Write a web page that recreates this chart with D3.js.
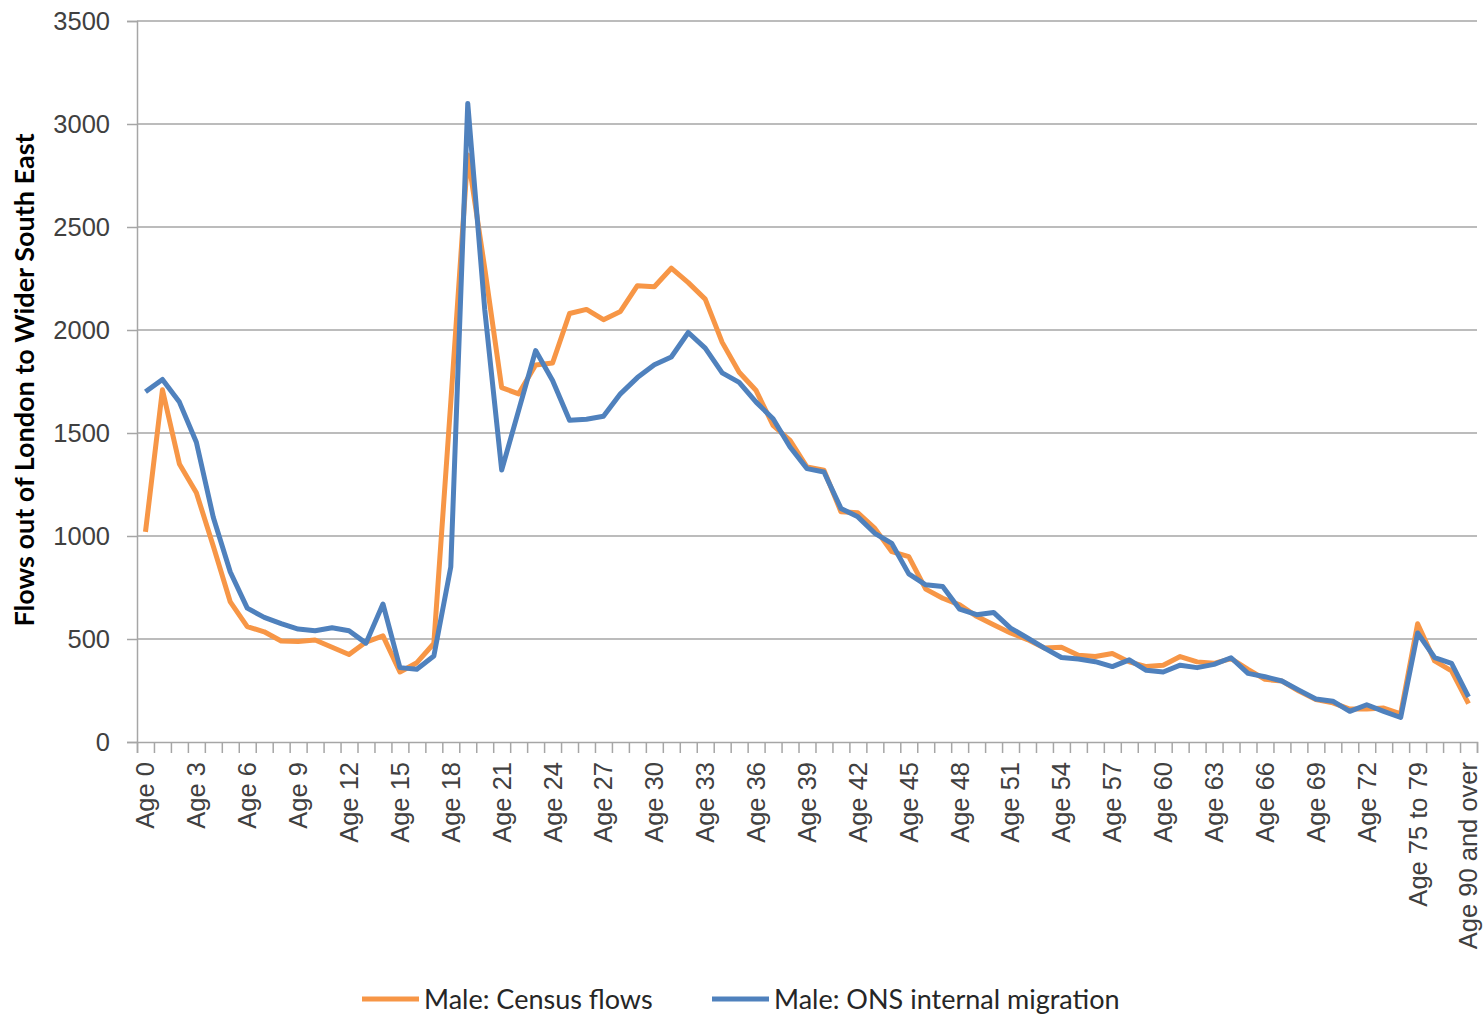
<!DOCTYPE html>
<html>
<head>
<meta charset="utf-8">
<script src="https://cdn.jsdelivr.net/npm/d3@7"></script>
<style>
  body { margin: 0; background: #fff; }
  svg { font-family: Lato, "Open Sans", sans-serif; }
  .tick text { fill: #404040; }
</style>
</head>
<body>
<script>
// categories: single years 0..74, then grouped bands
var ages = [];
for (var a = 0; a <= 74; a++) ages.push("Age " + a);
ages.push("Age 75 to 79", "Age 80 to 84", "Age 85 to 89", "Age 90 and over");

// Male: Census flows
var censusFlows = [1020, 1710, 1350, 1210, 950, 680, 560, 535, 490, 488,
    495, 460, 425, 485, 515, 340, 385, 478, 1650, 2850,
    2300, 1720, 1690, 1830, 1840, 2080, 2100, 2050, 2090, 2215,
    2210, 2300, 2230, 2150, 1940, 1795, 1706, 1537, 1464, 1335,
    1319, 1118, 1113, 1037, 924, 900, 742, 698, 666, 610,
    569, 529, 497, 456, 460, 421, 415, 430, 389, 366,
    373, 415, 389, 382, 405, 353, 304, 296, 247, 206,
    190, 160, 160, 165, 137, 574, 394, 345, 186];

// Male: ONS internal migration
var onsMigration = [1700, 1760, 1650, 1455, 1090, 825, 650, 605, 575, 548,
    540, 555, 540, 480, 670, 361, 353, 417, 850, 3100,
    2100, 1320, 1610, 1900, 1755, 1562, 1567, 1581, 1690, 1769,
    1831, 1869, 1988, 1912, 1792, 1746, 1650, 1569, 1432, 1327,
    1311, 1134, 1093, 1013, 964, 816, 763, 755, 645, 618,
    629, 553, 505, 456, 410, 403, 390, 366, 399, 348,
    340, 373, 361, 377, 409, 333, 317, 296, 252, 209,
    198, 149, 181, 149, 119, 529, 410, 382, 219];

var yTicks = [0, 500, 1000, 1500, 2000, 2500, 3000, 3500];

var seriesNames = ["Male: Census flows", "Male: ONS internal migration"];
var seriesColors = ["#F79646", "#4F81BD"];

var width = 1484, height = 1014;
var plotLeft = 137, plotRight = 1477, plotTop = 21, plotBottom = 742;

var svg = d3.select("body").append("svg")
    .attr("width", width)
    .attr("height", height);

var x = d3.scaleBand().domain(ages).range([plotLeft, plotRight]).padding(0);
var xEdges = d3.scaleLinear().domain([0, ages.length]).range([plotLeft, plotRight]);
var y = d3.scaleLinear().domain([0, 3500]).range([plotBottom, plotTop]);

// gridlines
svg.append("g")
    .selectAll("line")
    .data(yTicks.slice(1))
    .enter()
    .append("line")
    .attr("x1", plotLeft)
    .attr("x2", plotRight)
    .attr("y1", function(d) { return y(d); })
    .attr("y2", function(d) { return y(d); })
    .attr("stroke", "#a6a6a6")
    .attr("stroke-width", 1.5);

// y axis
var yAxis = svg.append("g")
    .attr("transform", "translate(" + plotLeft + ",0)")
    .call(d3.axisLeft(y).tickValues(yTicks).tickFormat(d3.format("d")).tickSize(10).tickPadding(17));
yAxis.select(".domain").attr("stroke", "#a6a6a6").attr("stroke-width", 1.5);
yAxis.selectAll(".tick line").attr("stroke", "#a6a6a6").attr("stroke-width", 1.5);
yAxis.selectAll(".tick text").attr("font-size", 25.5);

// x axis tick marks at category boundaries
var xTickAxis = svg.append("g")
    .attr("transform", "translate(0," + plotBottom + ")")
    .call(d3.axisBottom(xEdges).tickValues(d3.range(0, ages.length + 1)).tickSize(11).tickFormat(""));
xTickAxis.select(".domain").attr("stroke", "#a6a6a6").attr("stroke-width", 1.5);
xTickAxis.selectAll(".tick line").attr("stroke", "#a6a6a6").attr("stroke-width", 1.5);

// x labels, every third category
var xAxis = svg.append("g")
    .attr("transform", "translate(0," + plotBottom + ")")
    .call(d3.axisBottom(x)
        .tickValues(ages.filter(function(d, i) { return i % 3 === 0; }))
        .tickSize(0));
xAxis.select(".domain").remove();
xAxis.selectAll(".tick text")
    .attr("font-size", 25.5)
    .attr("transform", "rotate(-90)")
    .attr("text-anchor", "end")
    .attr("x", -20)
    .attr("y", 0)
    .attr("dy", "0.35em");

// lines
var line = d3.line()
    .x(function(d, i) { return x(ages[i]) + x.bandwidth() / 2; })
    .y(function(d) { return y(d); });

[censusFlows, onsMigration].forEach(function(values, k) {
    svg.append("path")
        .datum(values)
        .attr("fill", "none")
        .attr("stroke", seriesColors[k])
        .attr("stroke-width", 5)
        .attr("stroke-linejoin", "round")
        .attr("d", line);
});

// y axis title
svg.append("text")
    .attr("transform", "translate(34,380) rotate(-90)")
    .attr("text-anchor", "middle")
    .attr("font-size", 27)
    .attr("font-weight", "bold")
    .attr("fill", "#000")
    .text("Flows out of London to Wider South East");

// legend
var legendX = [362, 712];
var legend = svg.append("g");
seriesNames.forEach(function(name, k) {
    legend.append("line")
        .attr("x1", legendX[k])
        .attr("x2", legendX[k] + 57)
        .attr("y1", 999)
        .attr("y2", 999)
        .attr("stroke", seriesColors[k])
        .attr("stroke-width", 5);
    legend.append("text")
        .attr("x", legendX[k] + 62)
        .attr("y", 1009)
        .attr("font-size", 27)
        .attr("fill", "#262626")
        .text(name);
});
</script>
</body>
</html>
